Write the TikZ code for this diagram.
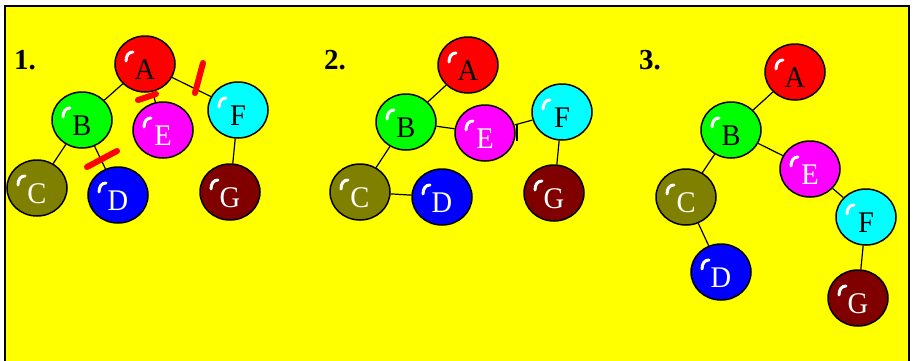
\documentclass[tikz,border=0pt]{standalone}
\usepackage{fontspec}
\setmainfont{Liberation Serif}
\usetikzlibrary{shapes.geometric}
\definecolor{cA}{RGB}{255,0,0}
\definecolor{cB}{RGB}{0,255,0}
\definecolor{cC}{RGB}{128,128,0}
\definecolor{cD}{RGB}{0,0,255}
\definecolor{cE}{RGB}{255,0,255}
\definecolor{cF}{RGB}{0,255,255}
\definecolor{cG}{RGB}{128,0,0}
\definecolor{bgyellow}{RGB}{255,255,0}
\newcommand\balltxt[1]{\raisebox{-15pt}[0pt][0pt]{\scalebox{0.95}[1]{#1}}}
\tikzset{
  ball/.style={ellipse, draw=black, line width=1.5pt, minimum width=60pt,
    minimum height=56pt, inner sep=0pt, font=\fontsize{30}{30}\selectfont,
    path picture={\draw[white, line width=3pt, line cap=round]
      ([shift={(-19pt,3pt)}]path picture bounding box.center)
      .. controls +(0pt,6pt) and +(-4pt,0pt) ..
      ([shift={(-12pt,12pt)}]path picture bounding box.center);}},
  dk/.style={text=black}, lt/.style={text=white},
  edge/.style={draw=black, line width=1.2pt},
  cut/.style={draw=red, line width=6pt, line cap=round},
  num/.style={font=\bfseries\fontsize{29}{29}\selectfont, inner sep=0pt}
}
\begin{document}
\begin{tikzpicture}[x=1pt,y=-1pt]
\useasboundingbox (0,0) rectangle (914,360);
\fill[white] (0,0) rectangle (914,360);
\draw[fill=bgyellow, line width=2pt] (5,6) rectangle (909,370);

% panel 1
\node[num] (n1) at (25,60) {1.};
\node[ball, fill=cA, dk] (A1) at (145,64) {\balltxt{A}};
\node[ball, fill=cB, dk] (B1) at (82,120) {\balltxt{B}};
\node[ball, fill=cE, lt] (E1) at (163,130) {\balltxt{E}};
\node[ball, fill=cF, dk] (F1) at (238,110) {\balltxt{F}};
\node[ball, fill=cC, lt] (C1) at (37,188) {\balltxt{C}};
\node[ball, fill=cD, lt] (D1) at (118,195) {\balltxt{D}};
\node[ball, fill=cG, lt] (G1) at (230,192) {\balltxt{G}};
\draw[edge] (A1) -- (B1);
\draw[edge] (A1) -- (E1);
\draw[edge] (A1) -- (F1);
\draw[edge] (B1) -- (C1);
\draw[edge] (B1) -- (D1);
\draw[edge] (F1) -- (G1);
\draw[cut] (138,100) -- (156,94);
\draw[cut] (203,63) -- (195,93);
\draw[cut] (87,167) -- (117,151);

% panel 2
\node[num] (n2) at (335,60) {2.};
\node[ball, fill=cA, dk] (A2) at (468,65) {\balltxt{A}};
\node[ball, fill=cB, dk] (B2) at (406,122) {\balltxt{B}};
\node[ball, fill=cE, lt] (E2) at (485,133) {\balltxt{E}};
\node[ball, fill=cF, dk] (F2) at (562,112) {\balltxt{F}};
\node[ball, fill=cC, lt] (C2) at (360,192) {\balltxt{C}};
\node[ball, fill=cD, lt] (D2) at (442,197) {\balltxt{D}};
\node[ball, fill=cG, lt] (G2) at (554,193) {\balltxt{G}};
\draw[edge] (A2) -- (B2);
\draw[edge] (B2) -- (E2);
\draw[edge] (E2) -- (F2);
\draw[edge] (B2) -- (C2);
\draw[edge] (C2) -- (D2);
\draw[edge] (F2) -- (G2);
\draw[line width=2.5pt] ([shift={(1pt,9pt)}]E2.east) -- ([shift={(1pt,-8pt)}]E2.east);

% panel 3
\node[num] (n3) at (650,60) {3.};
\node[ball, fill=cA, dk] (A3) at (795,72) {\balltxt{A}};
\node[ball, fill=cB, dk] (B3) at (731,130) {\balltxt{B}};
\node[ball, fill=cE, lt] (E3) at (810,169) {\balltxt{E}};
\node[ball, fill=cF, dk] (F3) at (866,217) {\balltxt{F}};
\node[ball, fill=cC, lt] (C3) at (686,197) {\balltxt{C}};
\node[ball, fill=cD, lt] (D3) at (721,272) {\balltxt{D}};
\node[ball, fill=cG, lt] (G3) at (858,298) {\balltxt{G}};
\draw[edge] (A3) -- (B3);
\draw[edge] (B3) -- (C3);
\draw[edge] (B3) -- (E3);
\draw[edge] (C3) -- (D3);
\draw[edge] (E3) -- (F3);
\draw[edge] (F3) -- (G3);
\end{tikzpicture}
\end{document}
